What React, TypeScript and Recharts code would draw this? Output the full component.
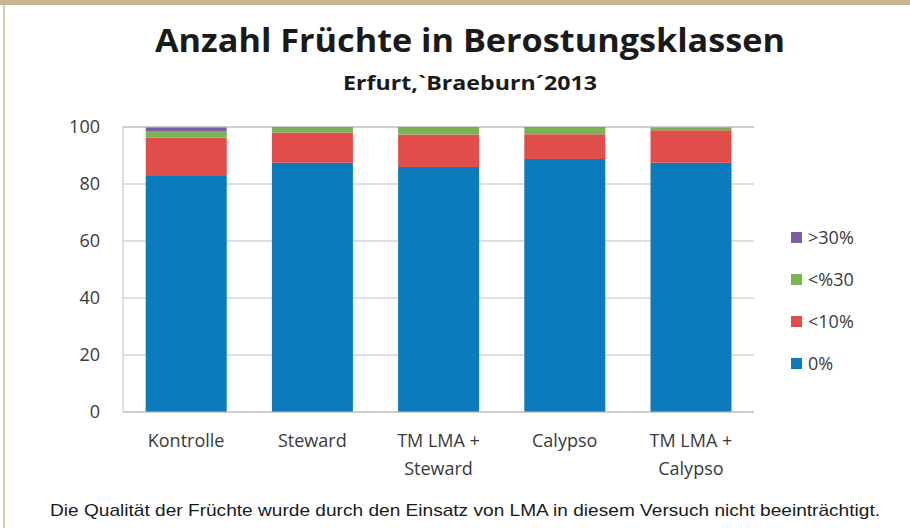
import { BarChart, Bar, XAxis, YAxis, CartesianGrid, Legend } from 'recharts';

const categories = ['Kontrolle', 'Steward', 'TM LMA +\nSteward', 'Calypso', 'TM LMA +\nCalypso'];
const klasse0 = [82.8, 87.5, 86.0, 88.8, 87.5];
const klasse10 = [13.4, 10.6, 11.4, 8.7, 11.4];
const klasse30 = [2.4, 1.7, 2.4, 2.3, 0.8];
const klasseUeber30 = [1.2, 0.2, 0.2, 0.2, 0.1];
const yTicks = [0, 20, 40, 60, 80, 100];

const series = [
  { key: 'k0', name: '0%', color: '#0B7BBE', values: klasse0 },
  { key: 'k10', name: '<10%', color: '#E04D4A', values: klasse10 },
  { key: 'k30', name: '<%30', color: '#7AB356', values: klasse30 },
  { key: 'k31', name: '>30%', color: '#7B5EA8', values: klasseUeber30 },
];

const data = categories.map((label, i) => {
  const row: any = { label };
  series.forEach((s) => (row[s.key] = s.values[i]));
  return row;
});

const FONT = "'Open Sans', sans-serif";

function XTick({ x, y, payload }: any) {
  const lines = String(payload.value).split('\n');
  return (
    <text x={x} y={y} textAnchor="middle" fill="#3a3a3a" fontSize={18} fontFamily={FONT}>
      {lines.map((l, i) => (
        <tspan key={i} x={x} dy={i === 0 ? 27 : 28}>
          {l}
        </tspan>
      ))}
    </text>
  );
}

function YTick({ y, payload }: any) {
  return (
    <text x={100} y={y} dy={6} textAnchor="end" fill="#3a3a3a" fontSize={18} fontFamily={FONT}>
      {payload.value}
    </text>
  );
}

function LegendBox() {
  return (
    <div style={{ fontFamily: FONT, fontSize: 18, color: '#3a3a3a' }}>
      {[...series].reverse().map((s) => (
        <div key={s.key} style={{ display: 'flex', alignItems: 'center', height: 42 }}>
          <span style={{ width: 11, height: 11, background: s.color, marginRight: 6 }} />
          {s.name}
        </div>
      ))}
    </div>
  );
}

export default function App() {
  return (
    <div style={{ position: 'absolute', left: 0, top: 0, width: 910, height: 528, background: '#fff', overflow: 'hidden' }}>
      <div style={{ position: 'absolute', left: 0, top: 0, width: 910, height: 5, background: '#C9B490' }} />
      <div style={{ position: 'absolute', left: 3, top: 5, width: 2, height: 523, background: '#DCCAA8' }} />
      <svg width={910} height={528} style={{ position: 'absolute', left: 0, top: 0 }}>
        <text x={470} y={52} textAnchor="middle" fontFamily={FONT} fontWeight="bold" fontSize={33} fill="#1a1a1a"
          textLength={630} lengthAdjust="spacingAndGlyphs">
          Anzahl Früchte in Berostungsklassen
        </text>
        <text x={470} y={90} textAnchor="middle" fontFamily={FONT} fontWeight="bold" fontSize={19} fill="#1a1a1a"
          textLength={254} lengthAdjust="spacingAndGlyphs">
          Erfurt,`Braeburn´2013
        </text>
        <text x={465} y={516} textAnchor="middle" fontFamily="'Liberation Sans', Arial, sans-serif" fontSize={17} fill="#1a1a1a"
          textLength={830} lengthAdjust="spacingAndGlyphs">
          Die Qualität der Früchte wurde durch den Einsatz von LMA in diesem Versuch nicht beeinträchtigt.
        </text>
      </svg>
      <div style={{ position: 'absolute', left: 0, top: 0 }}>
        <BarChart width={910} height={528} data={data} margin={{ top: 127, right: 156, bottom: 56, left: 73 }}
          barCategoryGap="18%">
          <CartesianGrid horizontal vertical={false} stroke="#BFBFBF" />
          <XAxis dataKey="label" height={60} axisLine={{ stroke: '#BFBFBF' }} tickLine={false} tick={<XTick />} interval={0} />
          <YAxis width={50} domain={[0, 100]} ticks={yTicks} axisLine={{ stroke: '#BFBFBF' }} tickLine={false} tick={<YTick />} />
          <Legend layout="horizontal" align="center" verticalAlign="middle" content={<LegendBox />}
            wrapperStyle={{ left: 791, top: 216, width: 110 }} />
          {series.map((s) => (
            <Bar key={s.key} dataKey={s.key} name={s.name} stackId="a" fill={s.color} isAnimationActive={false} />
          ))}
        </BarChart>
      </div>
    </div>
  );
}
